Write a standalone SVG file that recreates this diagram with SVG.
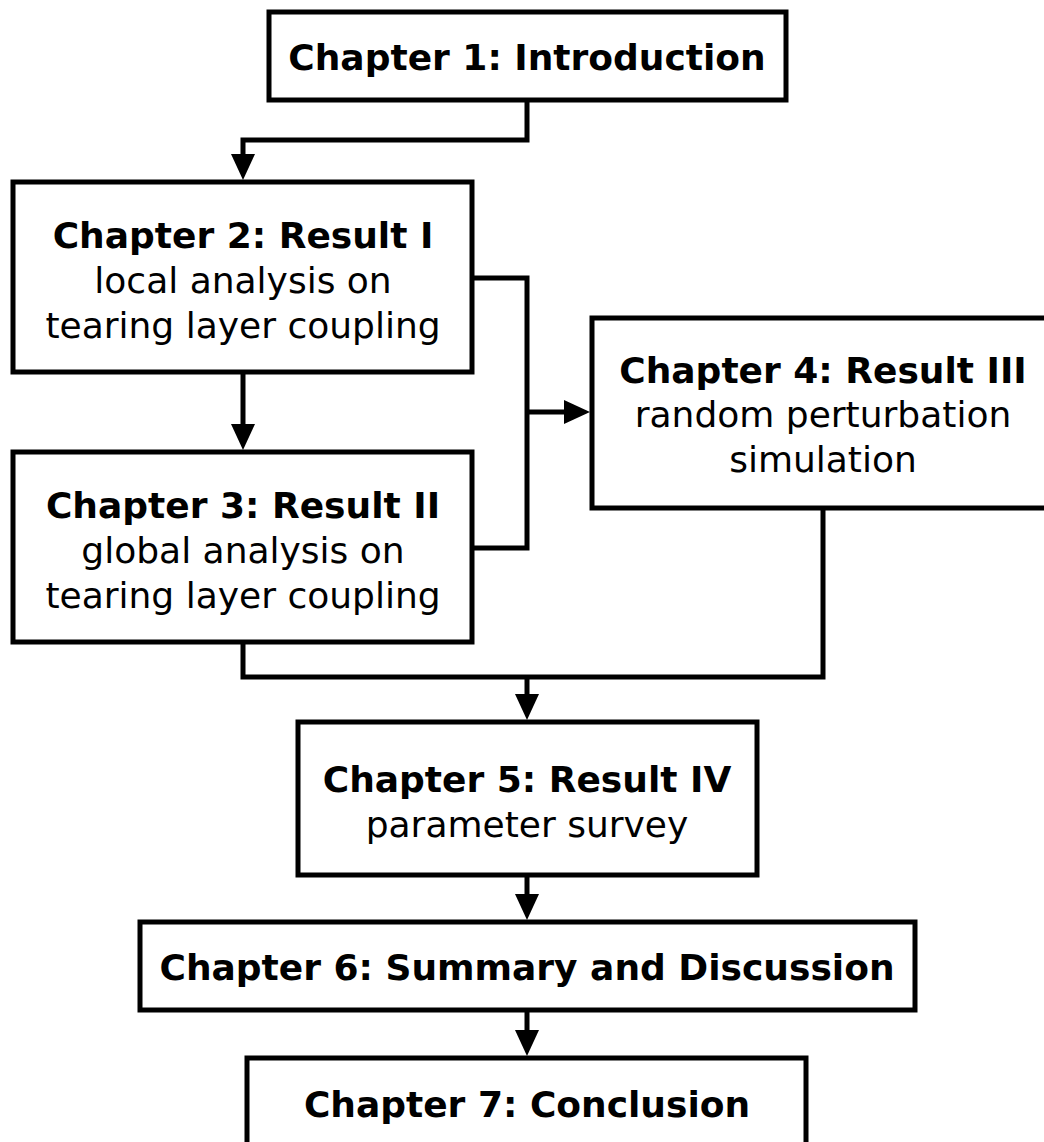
<svg xmlns="http://www.w3.org/2000/svg" width="1044" height="1142" viewBox="0 0 1044 1142">
<style>
.box{fill:#fff;stroke:#000;stroke-width:5}
.b{font-family:"DejaVu Sans",Verdana,sans-serif;font-weight:bold;font-size:36px;text-anchor:middle;fill:#000}
.r{font-family:"DejaVu Sans",Verdana,sans-serif;font-size:36px;text-anchor:middle;fill:#000}
.c{fill:none;stroke:#000;stroke-width:5;stroke-linejoin:miter}
</style>
<defs>
<marker id="ah" markerUnits="userSpaceOnUse" markerWidth="26" markerHeight="26" refX="0" refY="12" orient="auto" viewBox="0 0 26 24">
<path d="M0,0 L26,12 L0,24 z" fill="#000"/>
</marker>
</defs>
<rect width="1044" height="1142" fill="#fff"/>
<g id="connectors">
<path class="c" d="M527,100 V140 H243 V154" marker-end="url(#ah)"/>
<path class="c" d="M243,372 V424" marker-end="url(#ah)"/>
<path class="c" d="M472,278 H527 V548 H472"/>
<path class="c" d="M527,412 H564" marker-end="url(#ah)"/>
<path class="c" d="M243,642 V677 H823 V508"/>
<path class="c" d="M527,677 V694" marker-end="url(#ah)"/>
<path class="c" d="M527,875 V894" marker-end="url(#ah)"/>
<path class="c" d="M527,1010 V1030" marker-end="url(#ah)"/>
</g>
<g id="n1">
<rect class="box" x="269" y="12" width="517" height="88"/>
<text class="b" x="527" y="70">Chapter 1: Introduction</text>
</g>
<g id="n2">
<rect class="box" x="13" y="182" width="459" height="190"/>
<text class="b" x="243" y="248">Chapter 2: Result I</text>
<text class="r" x="243" y="293">local analysis on</text>
<text class="r" x="243" y="338">tearing layer coupling</text>
</g>
<g id="n3">
<rect class="box" x="13" y="452" width="459" height="190"/>
<text class="b" x="243" y="518">Chapter 3: Result II</text>
<text class="r" x="243" y="563">global analysis on</text>
<text class="r" x="243" y="608">tearing layer coupling</text>
</g>
<g id="n4">
<rect class="box" x="592" y="318" width="470" height="190"/>
<text class="b" x="823" y="383">Chapter 4: Result III</text>
<text class="r" x="823" y="427">random perturbation</text>
<text class="r" x="823" y="472">simulation</text>
</g>
<g id="n5">
<rect class="box" x="298" y="722" width="459" height="153"/>
<text class="b" x="527" y="792">Chapter 5: Result IV</text>
<text class="r" x="527" y="837">parameter survey</text>
</g>
<g id="n6">
<rect class="box" x="140" y="922" width="775" height="88"/>
<text class="b" x="527" y="980">Chapter 6: Summary and Discussion</text>
</g>
<g id="n7">
<rect class="box" x="247" y="1058" width="559" height="100"/>
<text class="b" x="527" y="1117">Chapter 7: Conclusion</text>
</g>
</svg>
